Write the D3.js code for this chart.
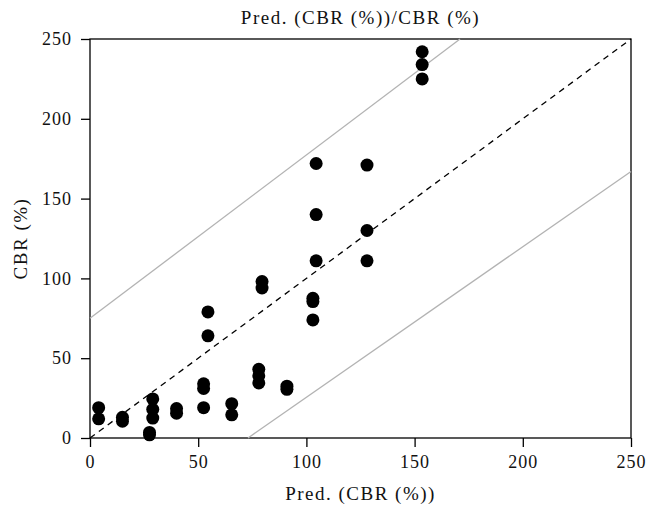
<!DOCTYPE html>
<html>
<head>
<meta charset="utf-8">
<script src="https://cdn.jsdelivr.net/npm/d3@7"></script>
<style>
  body { margin: 0; background: #fff; }
  text { font-family: "Liberation Serif", "DejaVu Serif", serif; }
</style>
</head>
<body>
<div id="chart"></div>
<script>
/* CONSTANTS */
const width = 660,
  height = 513,
  margin = { top: 39, right: 29, bottom: 75, left: 90 },
  radius = 6.5;

// predicted CBR (x) and measured CBR (y)
const predicted = [4, 4, 15, 15, 27.5, 27.5, 29, 29, 29, 40, 40, 52.5, 52.5, 52.5, 54.5, 54.5,
  65.5, 65.5, 78, 78, 78, 79.5, 79.5, 91, 91, 103, 103, 103, 104.5, 104.5, 104.5,
  128, 128, 128, 153.5, 153.5, 153.5];
const measured = [19, 12, 13, 10.5, 3.5, 2, 24.5, 18, 12.5, 18.5, 15.5, 34, 31, 19, 79, 64,
  21.5, 14.5, 43, 39, 34.5, 98, 94, 32.5, 30.5, 87.5, 85.5, 74, 172, 140, 111,
  171, 130, 111, 242, 234, 225];
const ticks = [0, 50, 100, 150, 200, 250];
const upperBound = [[0, 75], [171, 250]];
const lowerBound = [[73, 0], [250, 167]];
const identity = [[0, 0], [250, 250]];

const data = predicted.map((p, i) => ({ pred: p, cbr: measured[i] }));

/* SVG */
const svg = d3.select("#chart")
  .append("svg")
  .attr("width", width)
  .attr("height", height);

/* SCALES */
const xScale = d3.scaleLinear()
  .domain([0, 250])
  .range([margin.left, width - margin.right]);
const yScale = d3.scaleLinear()
  .domain([0, 250])
  .range([height - margin.bottom, margin.top]);

/* AXES */
const xAxis = d3.axisBottom(xScale).tickValues(ticks).tickSize(9).tickPadding(8);
const yAxis = d3.axisLeft(yScale).tickValues(ticks).tickSize(9).tickPadding(9);

const xAxisGroup = svg.append("g")
  .attr("transform", `translate(0, ${height - margin.bottom})`)
  .call(xAxis);
const yAxisGroup = svg.append("g")
  .attr("transform", `translate(${margin.left}, 0)`)
  .call(yAxis);

[xAxisGroup, yAxisGroup].forEach(g => {
  g.select(".domain").remove();
  g.selectAll("line").attr("stroke", "#000").attr("stroke-width", 1.3);
  g.selectAll("text")
    .attr("font-size", 18)
    .attr("letter-spacing", 1)
    .attr("fill", "#111")
    .style("font-family", "'Liberation Serif', serif");
});

// frame
svg.append("rect")
  .attr("x", xScale(0))
  .attr("y", yScale(250))
  .attr("width", xScale(250) - xScale(0))
  .attr("height", yScale(0) - yScale(250))
  .attr("fill", "none")
  .attr("stroke", "#000")
  .attr("stroke-width", 1.3);

/* LINES */
const lineGen = d3.line()
  .x(d => xScale(d[0]))
  .y(d => yScale(d[1]));

svg.selectAll(".bound")
  .data([upperBound, lowerBound])
  .join("path")
  .attr("class", "bound")
  .attr("fill", "none")
  .attr("stroke", "#b3b3b3")
  .attr("stroke-width", 1.3)
  .attr("d", d => lineGen(d));

svg.append("path")
  .datum(identity)
  .attr("fill", "none")
  .attr("stroke", "#000")
  .attr("stroke-width", 1.3)
  .attr("stroke-dasharray", "6,5")
  .attr("d", lineGen);

/* POINTS */
svg.selectAll(".dot")
  .data(data)
  .join("circle")
  .attr("class", "dot")
  .attr("cx", d => xScale(d.pred))
  .attr("cy", d => yScale(d.cbr))
  .attr("r", radius)
  .attr("fill", "#000");

/* LABELS */
const labelStyle = sel => sel
  .attr("text-anchor", "middle")
  .attr("font-size", 19)
  .attr("letter-spacing", 1.5)
  .attr("fill", "#111");

svg.append("text")
  .attr("x", (xScale(0) + xScale(250)) / 2)
  .attr("y", 24)
  .call(labelStyle)
  .text("Pred. (CBR (%))/CBR (%)");

svg.append("text")
  .attr("x", (xScale(0) + xScale(250)) / 2)
  .attr("y", 500)
  .call(labelStyle)
  .text("Pred. (CBR (%))");

svg.append("text")
  .attr("transform", `translate(27, ${(yScale(0) + yScale(250)) / 2}) rotate(-90)`)
  .call(labelStyle)
  .text("CBR (%)");
</script>
</body>
</html>
